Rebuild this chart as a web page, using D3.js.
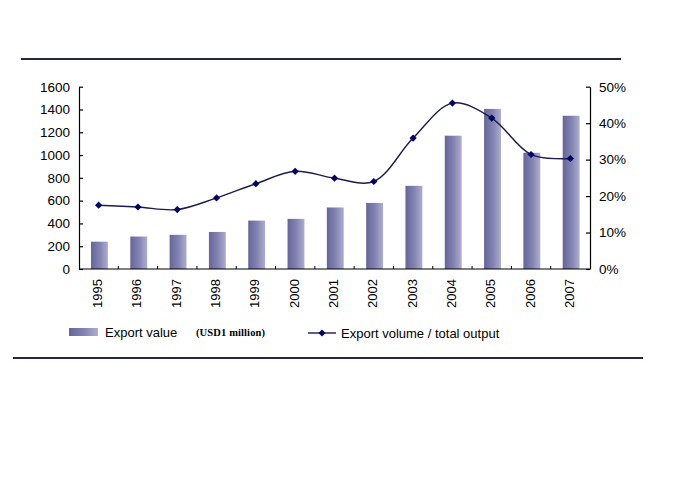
<!DOCTYPE html>
<html>
<head>
<meta charset="utf-8">
<script src="https://cdn.jsdelivr.net/npm/d3@7"></script>
<style>
  body { margin: 0; background: #fff; }
  svg { display: block; font-family: "Liberation Sans", Arial, sans-serif; }
</style>
</head>
<body>
<div id="chart"></div>
<script>
// data
var years = ["1995", "1996", "1997", "1998", "1999", "2000", "2001",
             "2002", "2003", "2004", "2005", "2006", "2007"];
var exportValue = [240, 285, 300, 325, 425, 440, 540, 580, 730, 1170, 1405, 1020, 1345];
var exportShare = [17.5, 17.0, 16.3, 19.5, 23.4, 26.8, 24.9, 24.0, 35.9, 45.5, 41.4, 31.4, 30.3];
var leftTicks = [0, 200, 400, 600, 800, 1000, 1200, 1400, 1600];
var rightTicks = [0, 10, 20, 30, 40, 50];

var W = 688, H = 480;
var plotL = 79, plotR = 590, plotT = 86.7, plotB = 269;

var svg = d3.select("#chart").append("svg")
  .attr("width", W).attr("height", H);

var defs = svg.append("defs");
var grad = defs.append("linearGradient").attr("id", "barGrad")
  .attr("x1", "0%").attr("x2", "100%").attr("y1", "0%").attr("y2", "0%");
grad.append("stop").attr("offset", "0%").attr("stop-color", "#65659a");
grad.append("stop").attr("offset", "55%").attr("stop-color", "#8585b3");
grad.append("stop").attr("offset", "100%").attr("stop-color", "#aeaed0");

var x = d3.scaleBand().domain(years).range([plotL, plotR]).paddingInner(0).paddingOuter(0);
var yL = d3.scaleLinear().domain([0, 1600]).range([plotB, plotT]);
var yR = d3.scaleLinear().domain([0, 50]).range([plotB, plotT]);

var barW = x.bandwidth() * 0.43;

// rules above and below
svg.append("line").attr("x1", 21).attr("x2", 621).attr("y1", 59).attr("y2", 59)
  .attr("stroke", "#26263e").attr("stroke-width", 2);
svg.append("line").attr("x1", 13).attr("x2", 643).attr("y1", 358).attr("y2", 358)
  .attr("stroke", "#26263e").attr("stroke-width", 2.2);

// bars
svg.selectAll(".bar").data(years).enter().append("rect")
  .attr("class", "bar")
  .attr("x", function (d) { return x(d) + x.bandwidth() / 2 - barW / 2 + 0.8; })
  .attr("width", barW)
  .attr("y", function (d, i) { return yL(exportValue[i]); })
  .attr("height", function (d, i) { return plotB - yL(exportValue[i]); })
  .attr("fill", "url(#barGrad)");

// axes
var axL = svg.append("g").attr("transform", "translate(" + plotL + ",0)")
  .call(d3.axisLeft(yL).tickValues(leftTicks).tickSizeInner(-4).tickSizeOuter(0).tickPadding(9)
    .tickFormat(d3.format("d")));
var axR = svg.append("g").attr("transform", "translate(" + plotR + ",0)")
  .call(d3.axisRight(yR).tickValues(rightTicks).tickSizeInner(-4).tickSizeOuter(0).tickPadding(9)
    .tickFormat(function (d) { return d + "%"; }));
[axL, axR].forEach(function (g) {
  g.selectAll("path, line").attr("stroke", "#000").attr("stroke-width", 1.2);
  g.selectAll("text").attr("font-size", 13.5).attr("fill", "#000")
    .attr("font-family", "Liberation Sans, Arial, sans-serif");
});

svg.append("line").attr("x1", plotL).attr("x2", plotR).attr("y1", plotB).attr("y2", plotB)
  .attr("stroke", "#000").attr("stroke-width", 1.2);
svg.selectAll(".xtick").data(years.slice(1)).enter().append("line")
  .attr("class", "xtick")
  .attr("x1", function (d) { return x(d); }).attr("x2", function (d) { return x(d); })
  .attr("y1", plotB).attr("y2", plotB - 3)
  .attr("stroke", "#000").attr("stroke-width", 1);

svg.selectAll(".xlabel").data(years).enter().append("text")
  .attr("class", "xlabel")
  .attr("transform", function (d) {
    return "translate(" + (x(d) + x.bandwidth() / 2 + 3.5) + "," + 279 + ") rotate(-90)";
  })
  .attr("text-anchor", "end")
  .attr("font-size", 13)
  .text(function (d) { return d; });

// share line
var pts = years.map(function (d, i) {
  return [x(d) + x.bandwidth() / 2, yR(exportShare[i])];
});
svg.append("path")
  .attr("d", d3.line().curve(d3.curveCatmullRom.alpha(0.5))(pts))
  .attr("fill", "none").attr("stroke", "#1c1c4c").attr("stroke-width", 1.4);

// square turned 45deg, like the Excel diamond marker
var diamond = d3.symbol().type(d3.symbolSquare).size(26);
svg.selectAll(".mark").data(pts).enter().append("path")
  .attr("class", "mark")
  .attr("transform", function (d) { return "translate(" + d[0] + "," + d[1] + ") rotate(45)"; })
  .attr("d", diamond)
  .attr("fill", "#000066");

// legend
var lg = svg.append("g");
lg.append("rect").attr("x", 69).attr("y", 328).attr("width", 29).attr("height", 8)
  .attr("fill", "url(#barGrad)");
lg.append("text").attr("x", 105).attr("y", 337).attr("font-size", 13)
  .text("Export value");
lg.append("text").attr("x", 196).attr("y", 336).attr("font-size", 10.5)
  .attr("font-family", "Liberation Serif, Times New Roman, serif").attr("font-weight", "bold")
  .attr("textLength", 69).attr("lengthAdjust", "spacing")
  .text("(USD1 million)");
lg.append("line").attr("x1", 308).attr("x2", 336).attr("y1", 333).attr("y2", 333)
  .attr("stroke", "#1c1c4c").attr("stroke-width", 1.4);
lg.append("path").attr("transform", "translate(322,333) rotate(45)").attr("d", diamond).attr("fill", "#000066");
lg.append("text").attr("x", 341).attr("y", 338).attr("font-size", 13)
  .text("Export volume / total output");
</script>
</body>
</html>
